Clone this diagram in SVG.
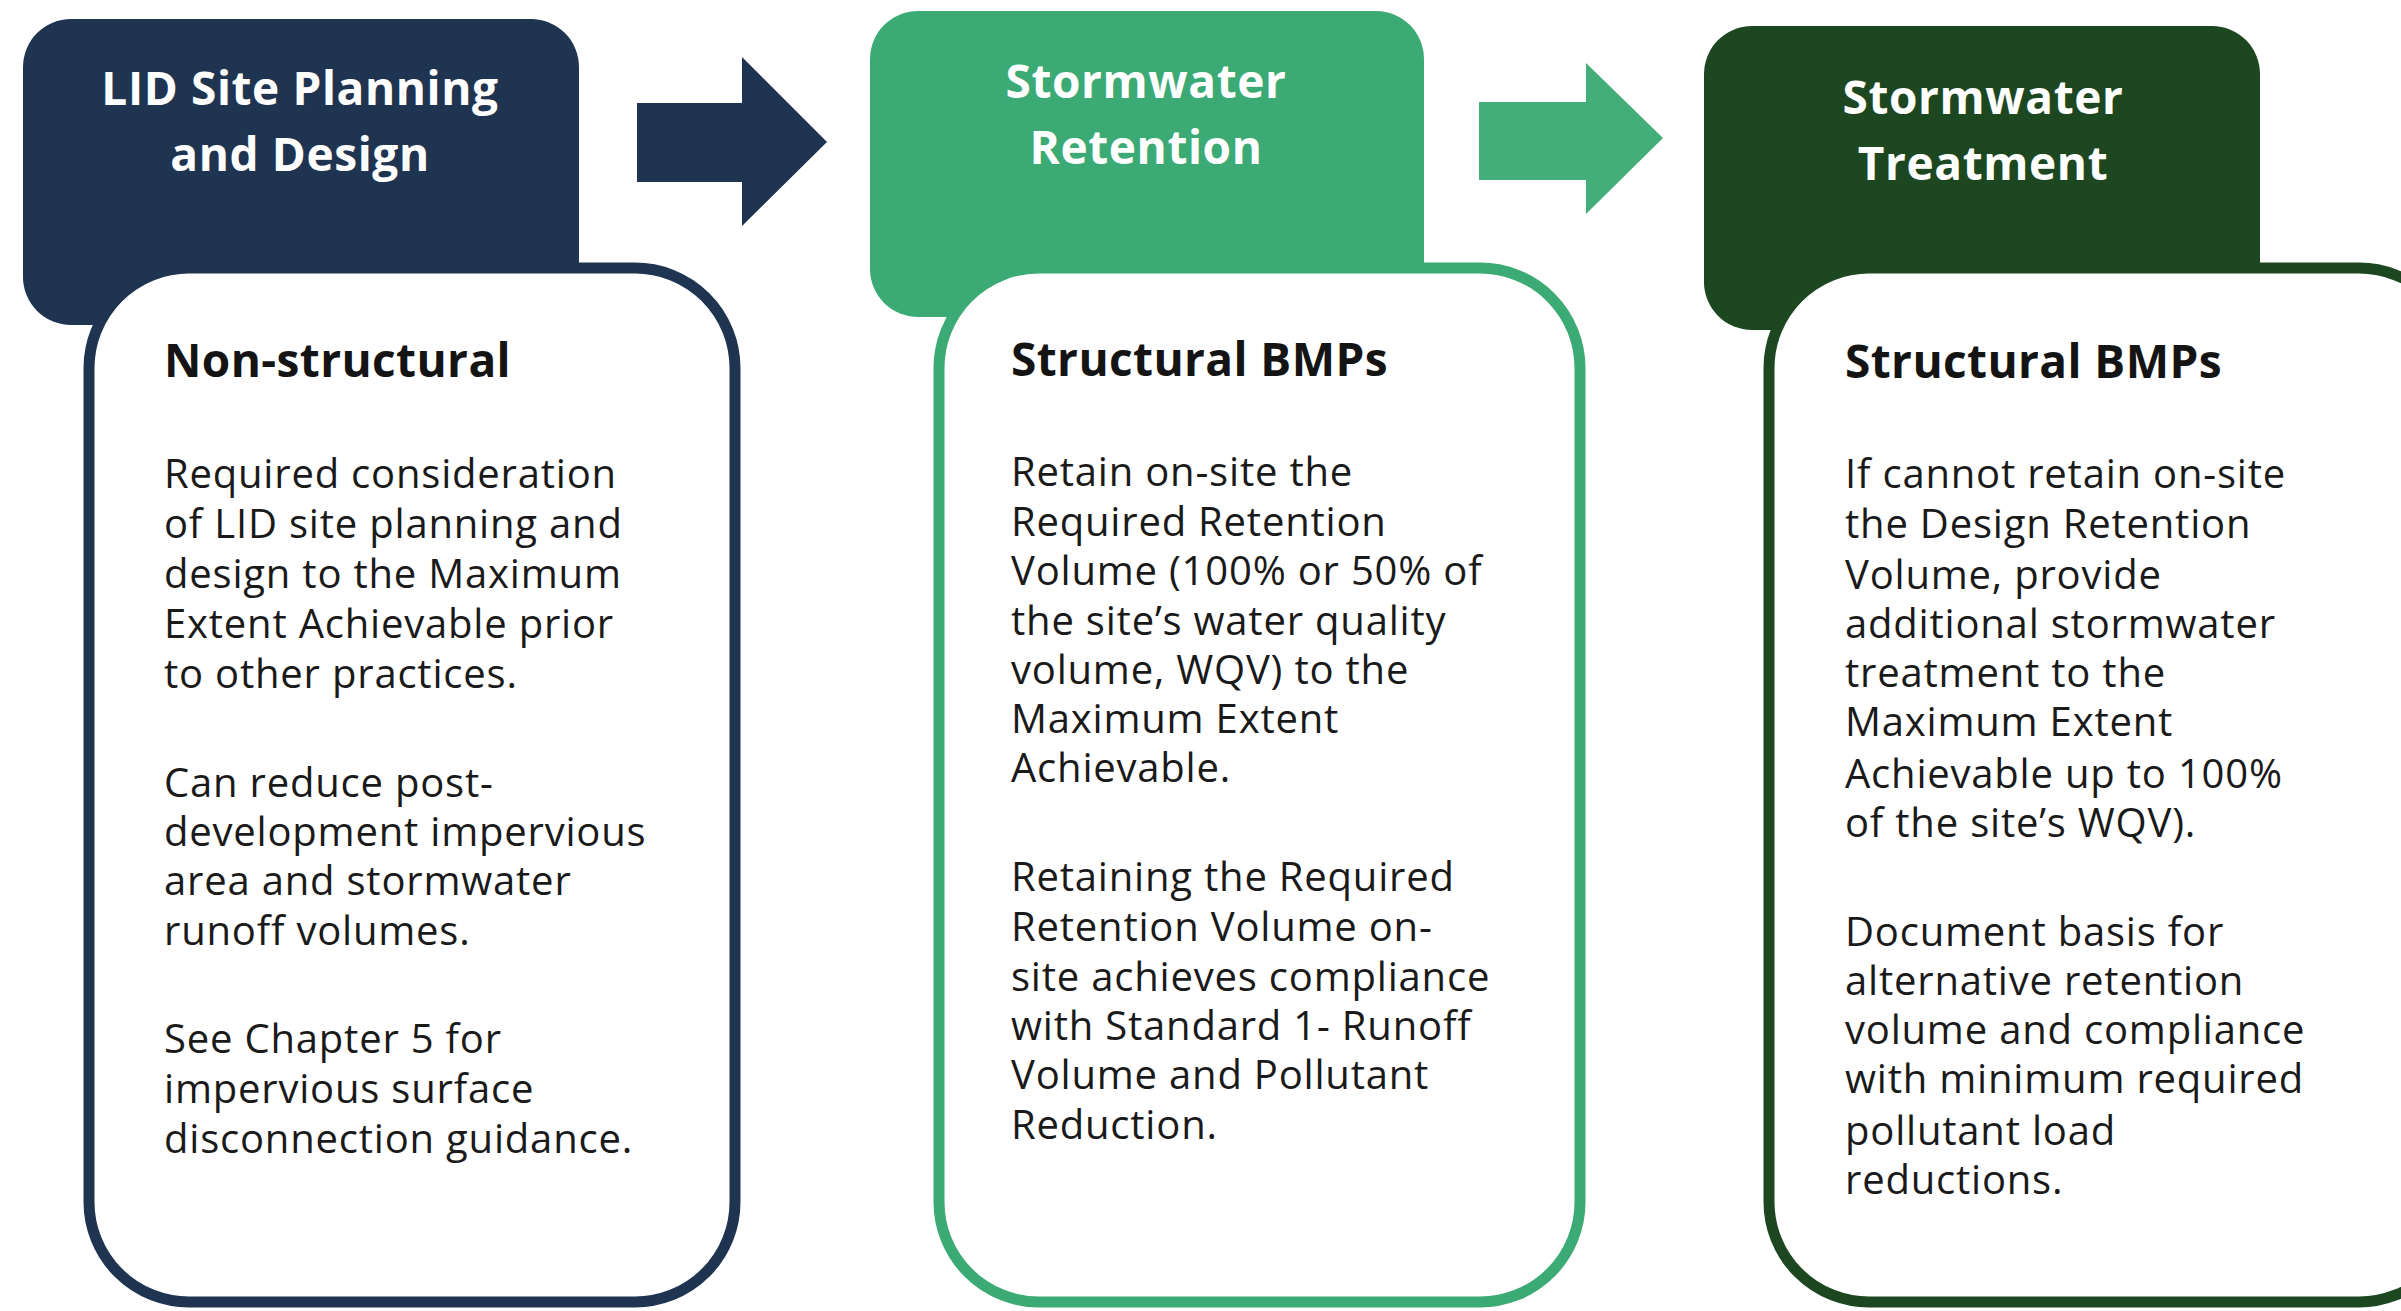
<svg xmlns="http://www.w3.org/2000/svg" width="2401" height="1311" viewBox="0 0 2401 1311">
  <style>
    .hdr { font-family: "Open Sans", "Noto Sans", "Liberation Sans", sans-serif; font-weight: 700; font-size: 46px; letter-spacing: 0.6px; fill: #ffffff; text-anchor: middle; }
    .sub { font-family: "Open Sans", "Noto Sans", "Liberation Sans", sans-serif; font-weight: 700; font-size: 46px; letter-spacing: 0.4px; fill: #141414; }
    .txt { font-family: "Open Sans", "Noto Sans", "Liberation Sans", sans-serif; font-size: 40px; letter-spacing: 0.8px; fill: #1a1a1a; }
    .body { fill: #ffffff; stroke-width: 11; }
  </style>
  <rect width="2401" height="1311" fill="#ffffff"/>

  <!-- step arrows between the stages -->
  <g id="connectors">
    <polygon points="637,103 742,103 742,57 827,142 742,226 742,182 637,182" fill="#1f3450"/>
    <polygon points="1479,102 1586,102 1586,63 1663,138 1586,214 1586,180 1479,180" fill="#43ae79"/>
  </g>

  <!-- Stage 1 -->
  <g id="lid-planning">
    <rect x="23" y="19" width="556" height="306" rx="48" fill="#1f3450"/>
    <text class="hdr" x="300" y="105">LID Site Planning</text>
    <text class="hdr" x="300" y="171">and Design</text>
    <rect class="body" x="89" y="268" width="646" height="1034" rx="100" stroke="#1f3450"/>
    <text class="sub" x="164" y="377">Non-structural</text>
    <text class="txt" x="164" y="488">Required consideration</text>
    <text class="txt" x="164" y="538">of LID site planning and</text>
    <text class="txt" x="164" y="588">design to the Maximum</text>
    <text class="txt" x="164" y="638">Extent Achievable prior</text>
    <text class="txt" x="164" y="688">to other practices.</text>
    <text class="txt" x="164" y="797">Can reduce post-</text>
    <text class="txt" x="164" y="846">development impervious</text>
    <text class="txt" x="164" y="895">area and stormwater</text>
    <text class="txt" x="164" y="945">runoff volumes.</text>
    <text class="txt" x="164" y="1053">See Chapter 5 for</text>
    <text class="txt" x="164" y="1103">impervious surface</text>
    <text class="txt" x="164" y="1153">disconnection guidance.</text>
  </g>

  <!-- Stage 2 -->
  <g id="stormwater-retention">
    <rect x="870" y="11" width="554" height="306" rx="48" fill="#3baa74"/>
    <text class="hdr" x="1146" y="98">Stormwater</text>
    <text class="hdr" x="1146" y="164">Retention</text>
    <rect class="body" x="939" y="268" width="641" height="1034" rx="100" stroke="#3baa74"/>
    <text class="sub" x="1011" y="376">Structural BMPs</text>
    <text class="txt" x="1011" y="486">Retain on-site the</text>
    <text class="txt" x="1011" y="536">Required Retention</text>
    <text class="txt" x="1011" y="585">Volume (100% or 50% of</text>
    <text class="txt" x="1011" y="635">the site’s water quality</text>
    <text class="txt" x="1011" y="684">volume, WQV) to the</text>
    <text class="txt" x="1011" y="733">Maximum Extent</text>
    <text class="txt" x="1011" y="782">Achievable.</text>
    <text class="txt" x="1011" y="891">Retaining the Required</text>
    <text class="txt" x="1011" y="941">Retention Volume on-</text>
    <text class="txt" x="1011" y="991">site achieves compliance</text>
    <text class="txt" x="1011" y="1040">with Standard 1- Runoff</text>
    <text class="txt" x="1011" y="1089">Volume and Pollutant</text>
    <text class="txt" x="1011" y="1139">Reduction.</text>
  </g>

  <!-- Stage 3 -->
  <g id="stormwater-treatment">
    <rect x="1704" y="26" width="556" height="304" rx="48" fill="#1c4720"/>
    <text class="hdr" x="1983" y="114">Stormwater</text>
    <text class="hdr" x="1983" y="180">Treatment</text>
    <rect class="body" x="1769" y="268" width="690" height="1034" rx="100" stroke="#1c4720"/>
    <text class="sub" x="1845" y="378">Structural BMPs</text>
    <text class="txt" x="1845" y="488">If cannot retain on-site</text>
    <text class="txt" x="1845" y="538">the Design Retention</text>
    <text class="txt" x="1845" y="589">Volume, provide</text>
    <text class="txt" x="1845" y="638">additional stormwater</text>
    <text class="txt" x="1845" y="687">treatment to the</text>
    <text class="txt" x="1845" y="736">Maximum Extent</text>
    <text class="txt" x="1845" y="788">Achievable up to 100%</text>
    <text class="txt" x="1845" y="837">of the site’s WQV).</text>
    <text class="txt" x="1845" y="946">Document basis for</text>
    <text class="txt" x="1845" y="995">alternative retention</text>
    <text class="txt" x="1845" y="1044">volume and compliance</text>
    <text class="txt" x="1845" y="1093">with minimum required</text>
    <text class="txt" x="1845" y="1145">pollutant load</text>
    <text class="txt" x="1845" y="1194">reductions.</text>
  </g>
</svg>
